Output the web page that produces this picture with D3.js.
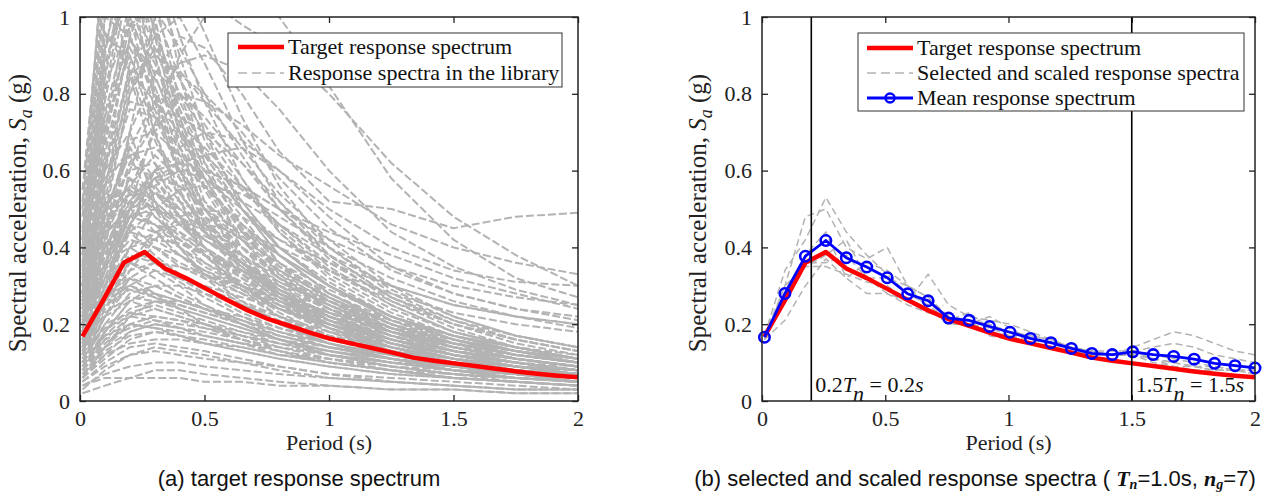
<!DOCTYPE html>
<html>
<head>
<meta charset="utf-8">
<script src="https://cdn.jsdelivr.net/npm/d3@7"></script>
<style>
  body { margin: 0; background: #fff; }
  svg { display: block; }
</style>
</head>
<body>
<div id="chart"></div>
<script>
// ---- data ----

// period grid of the target / mean / selected spectra (s)
const periods = [0.01, 0.093, 0.176, 0.259, 0.342, 0.425, 0.508, 0.591, 0.674, 0.757, 0.840, 0.923,
  1.006, 1.089, 1.172, 1.255, 1.338, 1.421, 1.504, 1.587, 1.670, 1.753, 1.836, 1.919, 2.0];

const targetSa = [0.168, 0.262, 0.360, 0.388, 0.345, 0.320, 0.292, 0.263, 0.236, 0.213, 0.196, 0.178,
  0.162, 0.150, 0.138, 0.126, 0.113, 0.105, 0.098, 0.091, 0.084, 0.077, 0.071, 0.066, 0.062];

const meanSa = [0.166, 0.280, 0.377, 0.418, 0.373, 0.349, 0.321, 0.279, 0.261, 0.216, 0.210, 0.194,
  0.179, 0.163, 0.152, 0.137, 0.124, 0.121, 0.128, 0.121, 0.116, 0.109, 0.098, 0.092, 0.086];

const selectedSa = [
  [0.17,0.34,0.42,0.53,0.44,0.38,0.33,0.28,0.25,0.21,0.20,0.19,0.17,0.15,0.14,0.13,0.12,0.12,0.13,0.14,0.15,0.14,0.12,0.11,0.10],
  [0.16,0.30,0.48,0.50,0.40,0.37,0.40,0.30,0.27,0.22,0.21,0.20,0.18,0.17,0.16,0.14,0.13,0.12,0.14,0.16,0.18,0.17,0.15,0.13,0.12],
  [0.17,0.26,0.35,0.35,0.33,0.31,0.30,0.26,0.33,0.25,0.22,0.21,0.20,0.18,0.16,0.14,0.12,0.12,0.13,0.12,0.11,0.10,0.09,0.08,0.08],
  [0.16,0.21,0.30,0.37,0.32,0.36,0.34,0.30,0.24,0.20,0.20,0.22,0.19,0.16,0.15,0.13,0.12,0.12,0.12,0.11,0.10,0.09,0.08,0.08,0.07],
  [0.17,0.27,0.36,0.36,0.38,0.32,0.28,0.26,0.24,0.20,0.21,0.17,0.16,0.15,0.14,0.13,0.12,0.12,0.12,0.11,0.10,0.09,0.09,0.08,0.08],
  [0.16,0.28,0.38,0.44,0.32,0.28,0.28,0.25,0.23,0.22,0.20,0.18,0.17,0.16,0.15,0.14,0.13,0.12,0.12,0.10,0.09,0.09,0.08,0.08,0.07],
  [0.17,0.30,0.35,0.38,0.42,0.32,0.32,0.30,0.27,0.21,0.23,0.19,0.18,0.17,0.16,0.14,0.13,0.13,0.13,0.11,0.09,0.08,0.08,0.08,0.08]
];

// library spectra, coarser period grid (s)
const libraryPeriods = [0.01, 0.1, 0.2, 0.3, 0.4, 0.5, 0.65, 0.8, 1.0, 1.25, 1.5, 1.75, 2.0];

// strong short-period records
const libraryHigh = [
  [0.35,0.90,1.30,0.95,0.70,0.52,0.38,0.28,0.20,0.14,0.10,0.08,0.06],
  [0.30,0.80,1.15,1.20,0.85,0.62,0.45,0.33,0.24,0.17,0.12,0.09,0.07],
  [0.40,1.10,1.40,1.00,0.72,0.55,0.40,0.30,0.22,0.15,0.11,0.08,0.07],
  [0.25,0.70,1.05,0.90,0.70,0.58,0.42,0.32,0.25,0.18,0.13,0.10,0.08],
  [0.45,1.00,0.95,0.80,0.62,0.48,0.36,0.27,0.19,0.13,0.10,0.08,0.06],
  [0.20,0.60,0.95,1.10,0.90,0.70,0.50,0.38,0.28,0.20,0.15,0.11,0.09],
  [0.30,0.75,1.00,0.85,0.68,0.60,0.48,0.36,0.26,0.18,0.13,0.10,0.08],
  [0.50,1.20,1.10,0.78,0.58,0.44,0.33,0.25,0.18,0.13,0.09,0.07,0.05],
  [0.22,0.55,0.88,0.96,0.80,0.64,0.50,0.40,0.30,0.22,0.16,0.12,0.10],
  [0.28,0.85,1.20,1.05,0.78,0.65,0.52,0.40,0.30,0.21,0.15,0.11,0.09],
  [0.38,0.95,0.90,0.70,0.55,0.44,0.35,0.27,0.20,0.14,0.11,0.08,0.07],
  [0.33,0.70,0.92,0.80,0.66,0.56,0.45,0.35,0.26,0.19,0.14,0.11,0.09],
  [0.18,0.48,0.80,0.92,0.84,0.72,0.58,0.45,0.34,0.25,0.18,0.14,0.11],
  [0.42,0.92,1.05,0.82,0.64,0.50,0.38,0.29,0.22,0.16,0.12,0.09,0.07],
  [0.26,0.62,0.86,0.78,0.70,0.62,0.50,0.40,0.31,0.22,0.16,0.12,0.10],
  [0.55,1.15,0.85,0.62,0.48,0.38,0.29,0.22,0.16,0.12,0.09,0.07,0.05],
  [0.24,0.66,1.02,0.98,0.76,0.60,0.46,0.36,0.27,0.19,0.14,0.11,0.09],
  [0.36,0.82,0.98,0.88,0.74,0.58,0.44,0.34,0.25,0.18,0.13,0.10,0.08],
  [0.48,1.05,1.25,0.90,0.66,0.50,0.37,0.28,0.21,0.15,0.11,0.08,0.06],
  [0.32,0.78,1.10,1.15,0.95,0.78,0.58,0.44,0.32,0.23,0.17,0.13,0.10],
  [0.27,0.68,0.98,1.02,0.92,0.80,0.64,0.50,0.37,0.26,0.19,0.14,0.11],
  [0.22,0.50,0.80,0.95,1.00,0.88,0.68,0.52,0.38,0.27,0.20,0.15,0.12],
  [0.40,0.88,1.08,0.92,0.76,0.64,0.50,0.38,0.28,0.20,0.14,0.11,0.09],
  [0.34,0.74,0.94,0.86,0.80,0.70,0.56,0.44,0.33,0.24,0.18,0.14,0.11],
  [0.30,0.72,0.90,0.74,0.60,0.50,0.40,0.32,0.24,0.17,0.13,0.10,0.08],
  [0.44,0.96,0.86,0.68,0.54,0.45,0.36,0.28,0.21,0.15,0.11,0.09,0.07],
  [0.20,0.52,0.84,1.06,1.10,0.96,0.74,0.56,0.40,0.28,0.21,0.16,0.13],
  [0.38,0.84,1.16,1.02,0.84,0.68,0.52,0.40,0.30,0.21,0.16,0.12,0.10],
  [0.26,0.64,0.94,0.84,0.72,0.66,0.56,0.46,0.35,0.25,0.18,0.14,0.11],
  [0.52,1.10,1.00,0.76,0.60,0.47,0.36,0.27,0.20,0.14,0.10,0.08,0.06],
  [0.30,1.00,1.20,0.80,0.60,0.46,0.34,0.26,0.19,0.13,0.10,0.07,0.06],
  [0.42,1.25,0.96,0.70,0.52,0.40,0.30,0.23,0.17,0.12,0.09,0.07,0.05],
  [0.28,0.92,1.18,0.96,0.74,0.56,0.42,0.32,0.23,0.16,0.12,0.09,0.07],
  [0.24,0.56,0.82,0.90,0.86,0.78,0.66,0.54,0.42,0.30,0.22,0.17,0.14],
  [0.30,0.62,0.78,0.76,0.74,0.70,0.62,0.52,0.40,0.29,0.22,0.17,0.14],
  [0.20,0.44,0.66,0.78,0.80,0.74,0.62,0.50,0.38,0.27,0.20,0.16,0.13]
];

// moderate records
const libraryMedium = [
  [0.20,0.45,0.62,0.58,0.48,0.40,0.32,0.25,0.19,0.14,0.10,0.08,0.06],
  [0.28,0.52,0.55,0.50,0.44,0.38,0.30,0.24,0.18,0.13,0.10,0.08,0.06],
  [0.15,0.36,0.52,0.60,0.52,0.44,0.36,0.29,0.22,0.16,0.12,0.09,0.07],
  [0.24,0.48,0.66,0.55,0.46,0.42,0.35,0.28,0.21,0.15,0.11,0.09,0.07],
  [0.32,0.60,0.70,0.52,0.40,0.33,0.26,0.20,0.15,0.11,0.08,0.06,0.05],
  [0.18,0.40,0.50,0.54,0.50,0.46,0.40,0.33,0.26,0.19,0.14,0.11,0.09],
  [0.22,0.42,0.58,0.48,0.42,0.36,0.30,0.26,0.20,0.15,0.12,0.09,0.08],
  [0.12,0.30,0.44,0.50,0.48,0.42,0.36,0.30,0.24,0.18,0.14,0.11,0.09],
  [0.35,0.58,0.64,0.50,0.40,0.32,0.25,0.20,0.15,0.11,0.08,0.06,0.05],
  [0.20,0.44,0.48,0.46,0.44,0.40,0.34,0.28,0.22,0.17,0.13,0.10,0.08],
  [0.26,0.50,0.60,0.62,0.54,0.46,0.38,0.31,0.25,0.18,0.14,0.11,0.09],
  [0.16,0.32,0.46,0.44,0.40,0.36,0.31,0.26,0.21,0.16,0.12,0.10,0.08],
  [0.30,0.54,0.52,0.44,0.38,0.33,0.28,0.22,0.17,0.13,0.10,0.08,0.06],
  [0.14,0.28,0.40,0.42,0.41,0.38,0.34,0.29,0.24,0.19,0.15,0.12,0.10],
  [0.24,0.46,0.54,0.56,0.48,0.38,0.30,0.24,0.19,0.14,0.11,0.09,0.07],
  [0.19,0.38,0.56,0.64,0.58,0.50,0.42,0.34,0.27,0.20,0.15,0.12,0.10],
  [0.27,0.44,0.50,0.46,0.40,0.35,0.30,0.25,0.20,0.15,0.12,0.10,0.08],
  [0.21,0.40,0.46,0.40,0.35,0.32,0.28,0.24,0.20,0.16,0.13,0.11,0.09],
  [0.24,0.48,0.68,0.70,0.64,0.58,0.50,0.42,0.34,0.26,0.20,0.16,0.13],
  [0.20,0.42,0.62,0.72,0.70,0.64,0.55,0.46,0.36,0.27,0.21,0.17,0.14],
  [0.28,0.56,0.76,0.74,0.66,0.56,0.46,0.38,0.30,0.22,0.17,0.14,0.11],
  [0.17,0.34,0.48,0.52,0.46,0.40,0.34,0.30,0.26,0.21,0.17,0.14,0.12],
  [0.22,0.38,0.44,0.42,0.38,0.34,0.30,0.27,0.23,0.19,0.16,0.13,0.11],
  [0.25,0.50,0.64,0.66,0.60,0.52,0.43,0.35,0.28,0.21,0.16,0.13,0.10],
  [0.18,0.36,0.52,0.58,0.56,0.50,0.44,0.38,0.30,0.22,0.17,0.13,0.11],
  [0.30,0.56,0.66,0.58,0.50,0.44,0.36,0.29,0.22,0.16,0.12,0.10,0.08],
  [0.21,0.40,0.54,0.50,0.46,0.43,0.38,0.32,0.26,0.20,0.15,0.12,0.10],
  [0.13,0.30,0.46,0.54,0.52,0.48,0.42,0.36,0.29,0.22,0.17,0.13,0.11],
  [0.28,0.48,0.56,0.52,0.46,0.40,0.33,0.27,0.21,0.16,0.12,0.10,0.08],
  [0.16,0.34,0.50,0.60,0.62,0.56,0.46,0.38,0.30,0.22,0.17,0.13,0.11],
  [0.23,0.44,0.58,0.54,0.48,0.44,0.40,0.34,0.27,0.20,0.16,0.13,0.10],
  [0.19,0.38,0.48,0.50,0.47,0.42,0.36,0.31,0.25,0.19,0.15,0.12,0.10],
  [0.26,0.46,0.52,0.48,0.43,0.39,0.34,0.28,0.23,0.18,0.14,0.11,0.09],
  [0.12,0.26,0.36,0.40,0.38,0.34,0.29,0.24,0.19,0.15,0.12,0.10,0.08],
  [0.20,0.34,0.42,0.40,0.36,0.33,0.29,0.25,0.21,0.17,0.14,0.12,0.10],
  [0.16,0.30,0.40,0.44,0.42,0.38,0.33,0.28,0.23,0.18,0.15,0.12,0.10],
  [0.10,0.22,0.32,0.36,0.35,0.33,0.30,0.26,0.22,0.18,0.15,0.13,0.11],
  [0.24,0.40,0.44,0.38,0.33,0.29,0.25,0.21,0.17,0.14,0.11,0.09,0.08],
  [0.14,0.28,0.36,0.34,0.32,0.30,0.27,0.24,0.20,0.16,0.13,0.11,0.09],
  [0.08,0.18,0.26,0.30,0.30,0.28,0.25,0.22,0.18,0.15,0.12,0.10,0.09],
  [0.18,0.36,0.48,0.46,0.42,0.38,0.32,0.27,0.22,0.17,0.13,0.11,0.09],
  [0.06,0.14,0.22,0.26,0.26,0.24,0.22,0.19,0.16,0.13,0.11,0.09,0.08],
  [0.22,0.36,0.40,0.36,0.32,0.29,0.26,0.22,0.18,0.14,0.11,0.09,0.07]
];

// weak records
const libraryLow = [
  [0.10,0.20,0.28,0.30,0.27,0.24,0.20,0.16,0.12,0.09,0.07,0.05,0.04],
  [0.08,0.16,0.22,0.24,0.22,0.20,0.17,0.14,0.11,0.08,0.06,0.05,0.04],
  [0.12,0.24,0.32,0.28,0.24,0.20,0.16,0.13,0.10,0.08,0.06,0.05,0.04],
  [0.06,0.12,0.18,0.20,0.19,0.17,0.15,0.12,0.10,0.08,0.06,0.05,0.04],
  [0.14,0.26,0.34,0.36,0.32,0.28,0.23,0.19,0.15,0.11,0.09,0.07,0.06],
  [0.09,0.18,0.26,0.28,0.26,0.24,0.21,0.18,0.15,0.12,0.09,0.07,0.06],
  [0.05,0.10,0.14,0.15,0.14,0.13,0.11,0.09,0.07,0.06,0.05,0.04,0.03],
  [0.04,0.06,0.06,0.06,0.06,0.05,0.05,0.04,0.04,0.03,0.03,0.02,0.02],
  [0.07,0.14,0.20,0.22,0.21,0.19,0.16,0.13,0.10,0.08,0.06,0.05,0.04],
  [0.11,0.22,0.30,0.34,0.30,0.25,0.20,0.16,0.12,0.09,0.07,0.06,0.05],
  [0.16,0.30,0.38,0.36,0.31,0.27,0.22,0.18,0.14,0.11,0.08,0.07,0.05],
  [0.03,0.08,0.12,0.14,0.13,0.12,0.10,0.09,0.07,0.05,0.04,0.03,0.03],
  [0.13,0.25,0.29,0.27,0.25,0.23,0.20,0.17,0.14,0.11,0.09,0.07,0.06],
  [0.08,0.15,0.20,0.19,0.17,0.15,0.13,0.11,0.09,0.07,0.06,0.05,0.04],
  [0.18,0.32,0.36,0.32,0.28,0.25,0.21,0.17,0.14,0.11,0.09,0.07,0.06],
  [0.10,0.18,0.24,0.26,0.25,0.23,0.20,0.17,0.14,0.11,0.09,0.08,0.07],
  [0.06,0.11,0.16,0.18,0.17,0.16,0.14,0.12,0.10,0.08,0.07,0.06,0.05],
  [0.12,0.22,0.26,0.24,0.22,0.20,0.17,0.15,0.12,0.10,0.08,0.06,0.05],
  [0.02,0.04,0.06,0.08,0.08,0.07,0.06,0.05,0.04,0.03,0.03,0.02,0.02],
  [0.15,0.28,0.32,0.30,0.27,0.24,0.20,0.16,0.13,0.10,0.08,0.06,0.05],
  [0.09,0.16,0.19,0.21,0.20,0.19,0.17,0.15,0.13,0.11,0.09,0.08,0.07],
  [0.11,0.20,0.23,0.22,0.21,0.20,0.18,0.16,0.14,0.12,0.10,0.09,0.08],
  [0.07,0.12,0.15,0.16,0.16,0.15,0.14,0.12,0.11,0.09,0.08,0.07,0.06],
  [0.09,0.17,0.23,0.25,0.23,0.21,0.18,0.15,0.12,0.09,0.07,0.06,0.05],
  [0.05,0.09,0.12,0.13,0.12,0.11,0.10,0.08,0.06,0.05,0.04,0.03,0.03],
  [0.13,0.23,0.27,0.26,0.24,0.22,0.19,0.16,0.13,0.10,0.08,0.07,0.06],
  [0.07,0.13,0.17,0.18,0.17,0.15,0.13,0.11,0.09,0.07,0.06,0.05,0.04],
  [0.11,0.19,0.22,0.21,0.19,0.17,0.15,0.13,0.11,0.09,0.07,0.06,0.05],
  [0.15,0.26,0.30,0.28,0.26,0.24,0.21,0.18,0.15,0.12,0.10,0.08,0.07],
  [0.04,0.07,0.09,0.10,0.10,0.09,0.08,0.07,0.06,0.05,0.04,0.03,0.03],
  [0.10,0.17,0.20,0.19,0.18,0.17,0.15,0.14,0.12,0.10,0.09,0.08,0.07],
  [0.08,0.14,0.18,0.20,0.19,0.18,0.16,0.14,0.12,0.10,0.08,0.07,0.06],
  [0.17,0.28,0.30,0.27,0.24,0.22,0.19,0.16,0.13,0.11,0.09,0.07,0.06]
];

// long-period rich records
const libraryLong = [
  [0.20,0.40,0.70,1.00,1.15,1.05,0.98,0.92,0.80,0.62,0.48,0.38,0.30],
  [0.15,0.30,0.50,0.72,0.90,1.00,1.05,1.00,0.82,0.58,0.42,0.32,0.27],
  [0.25,0.45,0.70,0.85,0.95,0.92,0.80,0.65,0.52,0.50,0.45,0.48,0.49],
  [0.18,0.35,0.55,0.70,0.80,0.78,0.72,0.64,0.56,0.46,0.40,0.36,0.33],
  [0.12,0.28,0.45,0.60,0.66,0.70,0.68,0.60,0.50,0.40,0.34,0.31,0.30],
  [0.16,0.32,0.48,0.58,0.62,0.60,0.56,0.50,0.42,0.35,0.30,0.27,0.25],
  [0.14,0.26,0.40,0.50,0.55,0.56,0.54,0.48,0.40,0.32,0.26,0.22,0.19],
  [0.20,0.36,0.50,0.58,0.60,0.58,0.52,0.46,0.38,0.30,0.25,0.22,0.20],
  [0.10,0.22,0.34,0.42,0.48,0.50,0.48,0.42,0.36,0.30,0.25,0.22,0.20],
  [0.22,0.40,0.52,0.60,0.62,0.64,0.66,0.60,0.48,0.35,0.28,0.24,0.22],
  [0.30,0.60,0.85,0.90,0.85,0.80,0.70,0.58,0.45,0.34,0.28,0.24,0.21],
  [0.18,0.34,0.60,0.78,0.88,0.90,0.86,0.76,0.60,0.44,0.35,0.29,0.25],
  [0.14,0.30,0.46,0.56,0.60,0.60,0.56,0.50,0.44,0.38,0.32,0.28,0.24],
  [0.12,0.24,0.36,0.44,0.46,0.46,0.44,0.40,0.34,0.28,0.23,0.20,0.18]
];

const xTicks = [0, 0.5, 1, 1.5, 2];
const yTicks = [0, 0.2, 0.4, 0.6, 0.8, 1];
const markerLines = [0.2, 1.5];

// ---- drawing ----
const W = 1265, H = 494;
const svg = d3.select("#chart").append("svg").attr("width", W).attr("height", H);

const serif = "'Liberation Serif', 'Times New Roman', serif";
const grey = "#b3b3b3";

function drawPanel(opts){
  const x = d3.scaleLinear().domain([0, 2]).range([opts.left, opts.right]);
  const y = d3.scaleLinear().domain([0, 1]).range([opts.bottom, opts.top]);
  const g = svg.append("g");

  const clipId = "clip-" + opts.id;
  svg.append("clipPath").attr("id", clipId).append("rect")
    .attr("x", opts.left).attr("y", opts.top)
    .attr("width", opts.right - opts.left).attr("height", opts.bottom - opts.top);

  const plot = g.append("g").attr("clip-path", `url(#${clipId})`);

  // ticks (inward, on all four sides)
  const fmt = d => d === 0 ? "0" : String(d);
  const bottomAxis = g.append("g").attr("transform", `translate(0,${opts.bottom})`)
    .call(d3.axisBottom(x).tickValues(xTicks).tickFormat(fmt).tickSize(-6).tickPadding(9));
  const topAxis = g.append("g").attr("transform", `translate(0,${opts.top})`)
    .call(d3.axisTop(x).tickValues(xTicks).tickFormat("").tickSize(-6));
  const leftAxis = g.append("g").attr("transform", `translate(${opts.left},0)`)
    .call(d3.axisLeft(y).tickValues(yTicks).tickFormat(fmt).tickSize(-6).tickPadding(10));
  const rightAxis = g.append("g").attr("transform", `translate(${opts.right},0)`)
    .call(d3.axisRight(y).tickValues(yTicks).tickFormat("").tickSize(-6));
  [bottomAxis, topAxis, leftAxis, rightAxis].forEach(a => {
    a.select(".domain").remove();
    a.selectAll(".tick line").attr("stroke", "#222").attr("stroke-width", 1.3);
    a.selectAll("text").attr("fill", "#222").style("font-family", serif).style("font-size", "22px");
  });

  return {x, y, g, plot};
}

function frame(p, opts){
  p.g.append("rect")
    .attr("x", opts.left).attr("y", opts.top)
    .attr("width", opts.right - opts.left).attr("height", opts.bottom - opts.top)
    .attr("fill", "none").attr("stroke", "#222").attr("stroke-width", 1.5);
}

function axisTitles(p, opts, caption){
  // y label
  const yl = p.g.append("text")
    .attr("transform", `translate(${opts.ylabelX},${(opts.top + opts.bottom) / 2 + 4}) rotate(-90)`)
    .attr("text-anchor", "middle")
    .style("font-family", serif).style("font-size", "25px").attr("fill", "#222");
  yl.append("tspan").text("Spectral acceleration,  ");
  yl.append("tspan").style("font-style", "italic").text("S");
  yl.append("tspan").style("font-style", "italic").style("font-size", "18px").attr("dy", 6).text("a");
  yl.append("tspan").attr("dy", -6).text(" (g)");

  // x label
  p.g.append("text")
    .attr("x", (opts.left + opts.right) / 2).attr("y", 450)
    .attr("text-anchor", "middle")
    .style("font-family", serif).style("font-size", "22px").attr("fill", "#222")
    .text("Period (s)");

  // caption
  const c = svg.append("text")
    .attr("x", opts.captionX).attr("y", 486)
    .attr("text-anchor", "middle")
    .style("font-family", "'Liberation Sans', Arial, sans-serif").style("font-size", "22px").attr("fill", "#111");
  caption(c);
}

const lineOf = (p, xs) => d3.line().x((d, i) => p.x(xs[i])).y(d => p.y(d));

// ---- panel (a) ----
const optA = {id: "a", left: 80, right: 578, top: 17, bottom: 401, ylabelX: 26, captionX: 299};
const pA = drawPanel(optA);
const library = [].concat(libraryLow, libraryMedium, libraryHigh, libraryLong);
pA.plot.selectAll("path.lib").data(library).join("path")
  .attr("class", "lib")
  .attr("d", lineOf(pA, libraryPeriods))
  .attr("fill", "none").attr("stroke", grey).attr("stroke-width", 2)
  .attr("stroke-dasharray", "8,3");
pA.plot.append("path").datum(targetSa)
  .attr("d", lineOf(pA, periods))
  .attr("fill", "none").attr("stroke", "#ff0000").attr("stroke-width", 4.5)
  .attr("stroke-linejoin", "round");
frame(pA, optA);
axisTitles(pA, optA, t => t.text("(a) target response spectrum"));

// legend (a)
const legA = pA.g.append("g");
legA.append("rect").attr("x", 228).attr("y", 33).attr("width", 334).attr("height", 54)
  .attr("fill", "#fff").attr("stroke", "#333").attr("stroke-width", 1);
legA.append("line").attr("x1", 238).attr("x2", 284).attr("y1", 47).attr("y2", 47)
  .attr("stroke", "#ff0000").attr("stroke-width", 4.5);
legA.append("line").attr("x1", 238).attr("x2", 284).attr("y1", 73).attr("y2", 73)
  .attr("stroke", grey).attr("stroke-width", 1.4).attr("stroke-dasharray", "9,5");
legA.selectAll("text").data(["Target response spectrum", "Response spectra in the library"]).join("text")
  .attr("x", 288).attr("y", (d, i) => 54 + i * 26)
  .style("font-family", serif).style("font-size", "22px").attr("fill", "#111")
  .text(d => d);

// ---- panel (b) ----
const optB = {id: "b", left: 762, right: 1255, top: 17, bottom: 401, ylabelX: 706, captionX: 975};
const pB = drawPanel(optB);
pB.plot.selectAll("path.sel").data(selectedSa).join("path")
  .attr("class", "sel")
  .attr("d", lineOf(pB, periods))
  .attr("fill", "none").attr("stroke", grey).attr("stroke-width", 1.5)
  .attr("stroke-dasharray", "7,4");
pB.plot.append("path").datum(targetSa)
  .attr("d", lineOf(pB, periods))
  .attr("fill", "none").attr("stroke", "#ff0000").attr("stroke-width", 4.5)
  .attr("stroke-linejoin", "round");
pB.plot.append("path").datum(meanSa)
  .attr("d", lineOf(pB, periods))
  .attr("fill", "none").attr("stroke", "#0000ff").attr("stroke-width", 2.8);
pB.g.selectAll("circle.mean").data(meanSa).join("circle")
  .attr("class", "mean")
  .attr("cx", (d, i) => pB.x(periods[i])).attr("cy", d => pB.y(d)).attr("r", 5.2)
  .attr("fill", "none").attr("stroke", "#0000ff").attr("stroke-width", 2.6);

// vertical period-range lines
pB.g.selectAll("line.vl").data(markerLines).join("line")
  .attr("class", "vl")
  .attr("x1", d => pB.x(d)).attr("x2", d => pB.x(d))
  .attr("y1", optB.top).attr("y2", optB.bottom)
  .attr("stroke", "#000").attr("stroke-width", 1.6);

markerLines.forEach(v => {
  const t = pB.g.append("text")
    .attr("x", pB.x(v) + 4).attr("y", 392)
    .style("font-family", serif).style("font-size", "22px").attr("fill", "#111");
  t.append("tspan").text(v.toFixed(1));
  t.append("tspan").style("font-style", "italic").text("T");
  t.append("tspan").style("font-style", "italic").attr("dy", 9).attr("dx", -2).text("n");
  t.append("tspan").attr("dy", -9).text(" = " + v.toFixed(1));
  t.append("tspan").style("font-style", "italic").text("s");
});

frame(pB, optB);
axisTitles(pB, optB, t => {
  t.append("tspan").text("(b) selected and scaled response spectra ( ");
  t.append("tspan").style("font-family", serif).style("font-style", "italic").style("font-weight", "bold").text("T");
  t.append("tspan").style("font-family", serif).style("font-style", "italic").style("font-weight", "bold")
    .style("font-size", "14px").attr("dy", 3).text("n");
  t.append("tspan").attr("dy", -3).text("=1.0s, ");
  t.append("tspan").style("font-family", serif).style("font-style", "italic").style("font-weight", "bold").text("n");
  t.append("tspan").style("font-family", serif).style("font-style", "italic").style("font-weight", "bold")
    .style("font-size", "14px").attr("dy", 3).text("g");
  t.append("tspan").attr("dy", -3).text("=7)");
});

// legend (b)
const legB = pB.g.append("g");
legB.append("rect").attr("x", 858).attr("y", 33).attr("width", 386).attr("height", 78)
  .attr("fill", "#fff").attr("stroke", "#333").attr("stroke-width", 1);
legB.append("line").attr("x1", 867).attr("x2", 913).attr("y1", 48).attr("y2", 48)
  .attr("stroke", "#ff0000").attr("stroke-width", 4.5);
legB.append("line").attr("x1", 867).attr("x2", 913).attr("y1", 73).attr("y2", 73)
  .attr("stroke", grey).attr("stroke-width", 1.4).attr("stroke-dasharray", "9,5");
legB.append("line").attr("x1", 867).attr("x2", 913).attr("y1", 98).attr("y2", 98)
  .attr("stroke", "#0000ff").attr("stroke-width", 2.8);
legB.append("circle").attr("cx", 890).attr("cy", 98).attr("r", 4.5)
  .attr("fill", "none").attr("stroke", "#0000ff").attr("stroke-width", 2.5);
legB.selectAll("text").data(["Target response spectrum", "Selected and scaled response spectra", "Mean response spectrum"]).join("text")
  .attr("x", 917).attr("y", (d, i) => 55 + i * 25)
  .style("font-family", serif).style("font-size", "22px").attr("fill", "#111")
  .text(d => d);
</script>
</body>
</html>
